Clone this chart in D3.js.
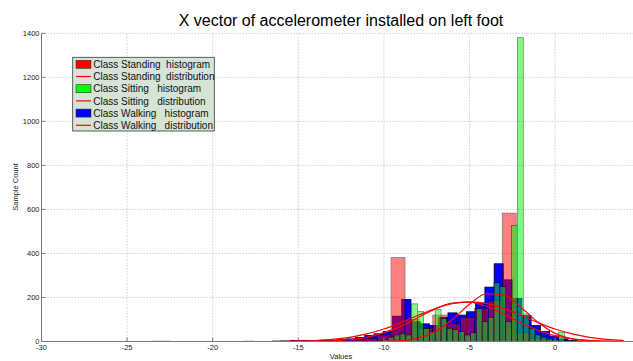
<!DOCTYPE html>
<html><head><meta charset="utf-8">
<script src="https://cdn.jsdelivr.net/npm/d3@7"></script>
<style>
html,body{margin:0;padding:0;background:#fff;}
svg{display:block;font-family:"Liberation Sans",Arial,sans-serif;}
.leg text{white-space:pre;}
</style></head><body>
<svg id="chart" width="633" height="361"></svg>
<script>
const titleText = "X vector of accelerometer installed on left foot";
const xLabel = "Values";
const yLabel = "Sample Count";
const xTicks = [-30, -25, -20, -15, -10, -5, 0];
const yTicks = [0, 200, 400, 600, 800, 1000, 1200, 1400];

// Histograms: left edge of the first bin, bin width, counts per bin
const walkingStart = -23.54, walkingWidth = 0.54;
const walkingCounts = [1, 1, 0, 0, 0, 0, 0, 0, 0, 0, 1, 0, 0, 2, 2, 5, 4, 3, 5, 6, 8, 12, 18, 28, 35, 45,
  115, 191, 90, 80, 73, 110, 130, 120, 135, 175, 247, 353, 280, 195, 118, 73, 45, 25, 12, 5];

const standingStart = -16.076, standingWidth = 0.812;
const standingCounts = [2, 3, 2, 3, 5, 8, 15, 30, 382, 100, 60, 120, 80, 110, 150, 185, 583, 40, 15, 8, 3];

const sittingStart = -10.775, sittingWidth = 0.343;
const sittingCounts = [3, 5, 10, 20, 30, 35, 30, 171, 136, 60, 45, 145, 105, 60, 55, 45, 30, 40, 150,
  90, 110, 267, 250, 90, 527, 1380, 125, 60, 30, 20, 12, 8, 42, 3];

// Fitted distribution curves, sampled at curveX
const curveX = [-16, -15, -14, -13, -12, -11, -10, -9, -8, -7, -6, -5, -4, -3, -2, -1, 0, 1, 2, 3, 4];
const standingDist = [0, 0.3, 1, 3, 8, 19, 40, 70, 109, 148, 174, 179, 160, 125, 85, 51, 26, 12, 5, 2, 0.5];
const sittingDist = [0, 0, 0, 0, 0, 0.1, 0.8, 3.9, 15, 45, 100, 169, 217, 211, 156, 87, 37, 12, 2.9, 0.5, 0.1];
const walkingDist = [0.7, 1.8, 4.4, 9.5, 19, 34.5, 57, 86, 119, 150, 172, 180, 172, 150, 119, 86, 57, 34.5, 19, 9.5, 4.4];

const legendLabels = [
  "Class Standing  histogram", "Class Standing  distribution",
  "Class Sitting   histogram", "Class Sitting   distribution",
  "Class Walking   histogram", "Class Walking   distribution"
];
const legendKinds = ["patch", "line", "patch", "line", "patch", "line"];
const legendColors = ["#ff0000", "#ff0000", "#00ff00", "#ff0000", "#0000ff", "#ff0000"];

const svg = d3.select("#chart");
const W = 633, H = 361;
const x = d3.scaleLinear().domain([-30, 5]).range([41.5, 640.7]);
const y = d3.scaleLinear().domain([0, 1400]).range([341.5, 33.3]);

svg.append("rect").attr("width", W).attr("height", H).attr("fill", "#fff");

svg.append("defs").append("clipPath").attr("id", "plotclip")
  .append("rect").attr("x", x(-30)).attr("y", 0).attr("width", x(5) - x(-30)).attr("height", y(0) + 0.5);

// grid
const grid = svg.append("g").attr("stroke", "#c4c4c4").attr("stroke-width", 0.8).attr("stroke-dasharray", "1.5,1.5");
grid.selectAll(".gx").data(xTicks.slice(1)).join("line")
  .attr("x1", d => x(d)).attr("x2", d => x(d)).attr("y1", y(0)).attr("y2", y(1400));
grid.selectAll(".gy").data(yTicks.slice(1)).join("line")
  .attr("x1", x(-30)).attr("x2", W).attr("y1", d => y(d)).attr("y2", d => y(d));

function bins(start, width, counts) {
  return counts.map((c, i) => ({ x0: start + i * width, x1: start + (i + 1) * width, c }))
    .filter(d => d.c > 0);
}

const plot = svg.append("g").attr("clip-path", "url(#plotclip)");

function drawBars(data, fill, stroke, opacity) {
  const g = plot.append("g").attr("opacity", opacity);
  g.selectAll("rect").data(data).join("rect")
    .attr("x", d => x(d.x0))
    .attr("width", d => x(d.x1) - x(d.x0))
    .attr("y", d => y(d.c))
    .attr("height", d => Math.max(0.3, y(0) - y(d.c)))
    .attr("fill", fill)
    .attr("stroke", stroke)
    .attr("stroke-width", 0.8);
}

drawBars(bins(walkingStart, walkingWidth, walkingCounts), "#0000ff", "#000033", 1);
drawBars(bins(standingStart, standingWidth, standingCounts), "#ff0000", "#000", 0.5);
drawBars(bins(sittingStart, sittingWidth, sittingCounts), "#00ff00", "#000", 0.5);

const line = d3.line().x(d => x(d[0])).y(d => y(d[1])).curve(d3.curveMonotoneX);
[standingDist, sittingDist, walkingDist].forEach(vals => {
  plot.append("path")
    .attr("d", line(curveX.map((cx, i) => [cx, vals[i]])))
    .attr("fill", "none").attr("stroke", "#ff0000").attr("stroke-width", 1.2);
});

// axes
const axisColor = "#7a7a7a";
svg.append("line").attr("x1", x(-30)).attr("x2", x(-30)).attr("y1", y(0)).attr("y2", y(1400))
  .attr("stroke", axisColor).attr("stroke-width", 1);
svg.append("line").attr("x1", x(-30)).attr("x2", W).attr("y1", y(0)).attr("y2", y(0))
  .attr("stroke", axisColor).attr("stroke-width", 1);

svg.selectAll(".ytick").data(yTicks).join("line")
  .attr("x1", x(-30)).attr("x2", x(-30) + 4).attr("y1", d => y(d)).attr("y2", d => y(d))
  .attr("stroke", axisColor);
svg.selectAll(".xtick").data(xTicks).join("line")
  .attr("x1", d => x(d)).attr("x2", d => x(d)).attr("y1", y(0)).attr("y2", y(0) - 4)
  .attr("stroke", axisColor);

svg.selectAll(".ylab").data(yTicks).join("text")
  .attr("x", x(-30) - 2).attr("y", d => y(d) + 2.6)
  .attr("text-anchor", "end").attr("font-size", 7.5).attr("fill", "#222")
  .text(d => d);
svg.selectAll(".xlab").data(xTicks).join("text")
  .attr("x", d => x(d)).attr("y", 349.5)
  .attr("text-anchor", "middle").attr("font-size", 7.5).attr("fill", "#222")
  .text(d => d);

svg.append("text").attr("x", 341).attr("y", 358.5).attr("text-anchor", "middle")
  .attr("font-size", 7.5).attr("fill", "#222").text(xLabel);
svg.append("text").attr("transform", "translate(18,187) rotate(-90)").attr("text-anchor", "middle")
  .attr("font-size", 7.5).attr("fill", "#222").text(yLabel);

svg.append("text").attr("x", 341).attr("y", 25.5).attr("text-anchor", "middle")
  .attr("font-size", 16).attr("fill", "#000").text(titleText);

// legend
const leg = svg.append("g").attr("class", "leg");
leg.append("rect").attr("x", 72.7).attr("y", 57.3).attr("width", 141.6).attr("height", 73.7)
  .attr("fill", "#d5e4d6").attr("stroke", "#3a3a3a").attr("stroke-width", 0.8);
legendLabels.forEach((lab, i) => {
  const cy = 64.3 + i * 12.2;
  if (legendKinds[i] === "patch") {
    leg.append("rect").attr("x", 76).attr("y", cy - 4).attr("width", 15).attr("height", 8)
      .attr("fill", legendColors[i]).attr("stroke", "#333").attr("stroke-width", 0.6);
  } else {
    leg.append("line").attr("x1", 76).attr("x2", 91).attr("y1", cy).attr("y2", cy)
      .attr("stroke", legendColors[i]).attr("stroke-width", 1.2);
  }
  leg.append("text").attr("x", 93.3).attr("y", cy + 3.6).attr("font-size", 10).attr("fill", "#111")
    .text(lab);
});
</script>
</body></html>
